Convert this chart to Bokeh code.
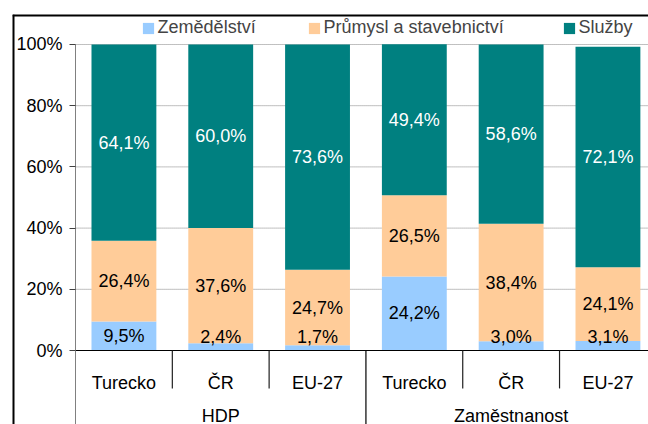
from bokeh.plotting import figure
from bokeh.models import (Range1d, FixedTicker, PrintfTickFormatter, ColumnDataSource,
                          Legend, LegendItem, Span)
from bokeh.core.properties import value
from bokeh.embed import file_html
from bokeh.resources import INLINE

# ---- data ----
groups = ["HDP", "Zaměstnanost"]
countries = ["Turecko", "ČR", "EU-27"]
series_names = ["Zemědělství", "Průmysl a stavebnictví", "Služby"]
zemedelstvi = [9.5, 2.4, 1.7, 24.2, 3.0, 3.1]
prumysl = [26.4, 37.6, 24.7, 26.5, 38.4, 24.1]
sluzby = [64.1, 60.0, 73.6, 49.4, 58.6, 72.1]
ytick_values = [0, 20, 40, 60, 80, 100]

colors = ["#99CCFF", "#FFCC99", "#008080"]
FONT = value("Liberation Sans")
FS = "18px"

n_cat = len(groups) * len(countries)
xs = list(range(n_cat))
cat_labels = [c for g in groups for c in countries]

src = ColumnDataSource(dict(x=xs, z=zemedelstvi, p=prumysl, s=sluzby))

W, H = 648, 424
TOP, LEFT = 14, 12
X0, X1 = -1.151, 5.419
Y0, Y1 = -24.18, 109.8
AX = -0.5  # position of the value axis (left edge of first category)

p = figure(width=W, height=H, x_range=Range1d(X0, X1), y_range=Range1d(Y0, Y1),
           output_backend="svg", toolbar_location=None, x_axis_location=None,
           min_border_left=LEFT, min_border_top=TOP, min_border_right=0, min_border_bottom=0)
p.outline_line_color = None
p.background_fill_color = "white"
p.border_fill_color = "white"

# gridlines (dotted), from the value axis to the right
grid_y = ytick_values[1:]
p.segment(x0=[AX] * len(grid_y), y0=grid_y, x1=[X1] * len(grid_y), y1=grid_y,
          line_color="#808080", line_dash="1 1", line_width=1)

renderers = p.vbar_stack(["z", "p", "s"], x="x", width=0.67, color=colors, line_color=None,
                         source=src)

# outer chart border (left and top edges)
p.add_layout(Span(location=X0, dimension="height", line_color="black", line_width=4))
p.add_layout(Span(location=Y1, dimension="width", line_color="black", line_width=4))

# value axis
p.xgrid.visible = False
p.ygrid.visible = False
ya = p.yaxis[0]
ya.fixed_location = AX
ya.bounds = (Y0, ytick_values[-1])
ya.ticker = FixedTicker(ticks=ytick_values)
ya.formatter = PrintfTickFormatter(format="%d%%")
ya.axis_line_color = "#808080"
ya.major_tick_line_color = "#404040"
ya.major_tick_out = 6
ya.major_tick_in = 0
ya.minor_tick_line_color = None
ya.major_label_text_font = "Liberation Sans"
ya.major_label_text_font_size = FS
ya.major_label_text_color = "black"
ya.major_label_standoff = 7

# category axis line and separators
p.segment(x0=[AX], y0=[0], x1=[X1], y1=[0], line_color="black", line_width=1.2)
sep_x = [i + 0.5 for i in range(n_cat - 1) if (i + 1) % len(countries) != 0]
p.segment(x0=sep_x, y0=[0] * len(sep_x), x1=sep_x, y1=[-12.4] * len(sep_x),
          line_color="#202020", line_width=1.2)
grp_x = [g * len(countries) - 0.5 for g in range(1, len(groups))]
p.segment(x0=grp_x, y0=[0] * len(grp_x), x1=grp_x, y1=[Y0] * len(grp_x),
          line_color="black", line_width=1.2)

p.text(x=xs, y=[-10.46] * n_cat, text=cat_labels, text_align="center",
       text_baseline="alphabetic", text_font=FONT, text_font_size=FS, text_color="black")
grp_centers = [g * len(countries) + (len(countries) - 1) / 2 for g in range(len(groups))]
p.text(x=grp_centers, y=[-21.3] * len(groups), text=groups, text_align="center",
       text_baseline="alphabetic", text_font=FONT, text_font_size=FS, text_color="black")

# data labels
def fmt(v):
    return ("%.1f" % v).replace(".", ",") + "%"

lab_x, lab_y, lab_t, lab_c = [], [], [], []
for i in xs:
    base = 0
    for vals, col in ((zemedelstvi, "black"), (prumysl, "black"), (sluzby, "white")):
        v = vals[i]
        cy = base + v / 2
        if base == 0:
            cy = max(cy, 4.5)
        lab_x.append(i); lab_y.append(cy); lab_t.append(fmt(v)); lab_c.append(col)
        base += v
p.text(x=lab_x, y=lab_y, text=lab_t, text_color=lab_c, text_align="center",
       text_baseline="middle", text_font=FONT, text_font_size=FS)

# legends (one per item for exact placement)
leg_pos = [(128.6, 386), (294.6, 386), (549.6, 386)]
for r, name, pos in zip(renderers, series_names, leg_pos):
    lg = Legend(items=[LegendItem(label=name, renderers=[r])], location=pos,
                orientation="horizontal", padding=0, margin=0, border_line_color=None,
                background_fill_alpha=0, label_text_font="Liberation Sans",
                label_text_font_size=FS, glyph_width=14, glyph_height=14,
                label_standoff=3, label_height=14)
    p.add_layout(lg, "center")

open("out.html", "w").write(file_html(p, INLINE))
